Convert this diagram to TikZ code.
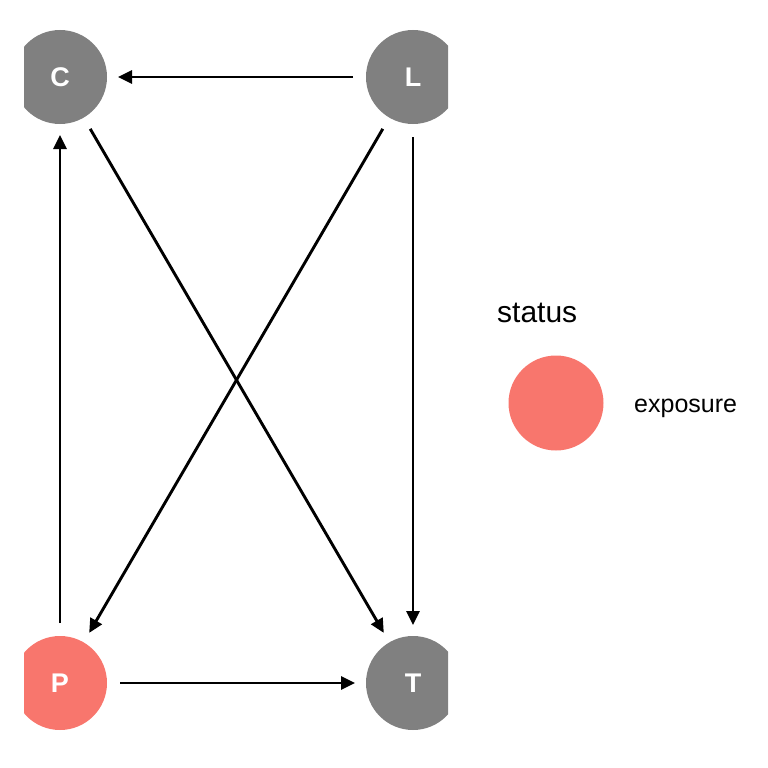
\documentclass[tikz,border=0pt]{standalone}
\usepackage{fontspec}
\setmainfont{Liberation Sans}
\usetikzlibrary{arrows.meta}
\definecolor{nodegray}{HTML}{808080}
\definecolor{expo}{HTML}{F8766D}
\tikzset{
  dagnode/.style={circle, minimum size=94pt, inner sep=0pt, outer sep=0pt, text=white,
    font=\fontsize{27}{32}\selectfont\bfseries},
  edge/.style={draw=black, line width=2.9pt, -{Triangle[length=14pt,width=13pt]},
    shorten >=11pt, shorten <=13pt},
}
\begin{document}
\begin{tikzpicture}[x=1pt,y=-1pt]
\useasboundingbox (0,0) rectangle (768,768);
\begin{scope}
\clip (24,0) rectangle (448,768);
\node[dagnode, fill=nodegray] (C) at (60,77) {C};
\node[dagnode, fill=nodegray] (L) at (413,77) {L};
\node[dagnode, fill=expo] (P) at (60,683) {P};
\node[dagnode, fill=nodegray] (T) at (413,683) {T};
\end{scope}
\draw[edge] (L) -- (C);
\draw[edge] (C) -- (T);
\draw[edge] (L) -- (P);
\draw[edge] (L) -- (T);
\draw[edge] (P) -- (C);
\draw[edge] (P) -- (T);
\node[anchor=base west, inner sep=0pt, font=\fontsize{30}{35}\selectfont] (title) at (497,322) {status};
\node[circle, minimum size=95pt, inner sep=0pt, fill=expo] (key) at (556,403) {};
\node[anchor=base west, inner sep=0pt, font=\fontsize{25}{30}\selectfont] (keylab) at (634,412) {exposure};
\end{tikzpicture}
\end{document}
